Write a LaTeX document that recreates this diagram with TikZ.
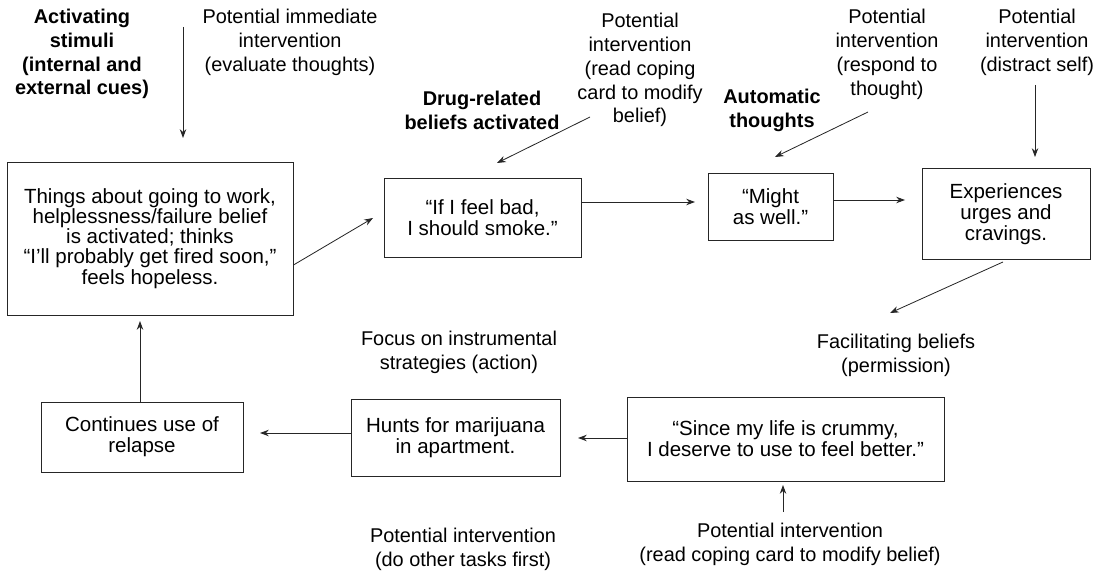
\documentclass[tikz,border=0pt]{standalone}
\usepackage{fontspec}
\setmainfont{Liberation Sans}
\usetikzlibrary{arrows.meta, positioning, calc}

\newcommand{\pxu}{0.03cm}
\newcommand{\boxfont}{\fontsize{17.5pt}{18pt}\selectfont}
\newcommand{\notefont}{\fontsize{17pt}{20.4pt}\selectfont}

\tikzset{
  stepbox/.style={draw=black!85, line width=0.8pt, align=center, inner sep=0pt, font=\boxfont},
  note/.style={align=center, inner sep=0pt, font=\notefont},
  cue/.style={note, font=\notefont\bfseries},
  flow/.style={-{Stealth[length=7.5pt, width=5.5pt]}, line width=0.7pt, draw=black!85}
}

\begin{document}
\begin{tikzpicture}[x=\pxu, y=-\pxu]
\useasboundingbox (0,0) rectangle (1103,573);

% chain of boxes
\node[stepbox, minimum width=286*\pxu, minimum height=153*\pxu,
  font=\fontsize{17.5pt}{17.2pt}\selectfont] (things) at (150,238.5)
  {Things about going to work,\\helplessness/failure belief\\is activated; thinks\\“I'll probably get fired soon,”\\feels hopeless.};
\node[stepbox, minimum width=197*\pxu, minimum height=79*\pxu] (ifbad) at (482.5,217.5)
  {“If I feel bad,\\I should smoke.”};
\node[stepbox, minimum width=125*\pxu, minimum height=67*\pxu] (might) at (770.5,206.5)
  {“Might\\as well.”};
\node[stepbox, minimum width=168*\pxu, minimum height=91*\pxu] (urges) at (1006,214)
  {Experiences\\urges and\\cravings.};
\node[stepbox, minimum width=317*\pxu, minimum height=84*\pxu] (since) at (785.5,439)
  {“Since my life is crummy,\\I deserve to use to feel better.”};
\node[stepbox, minimum width=209*\pxu, minimum height=77*\pxu] (hunts) at (455.5,437.5)
  {Hunts for marijuana\\in apartment.};
\node[stepbox, minimum width=202*\pxu, minimum height=70*\pxu] (relapse) at (142,437)
  {Continues use of\\relapse};

% labels
\node[cue] (stimuli) at (82,54) {Activating\\stimuli\\(internal and\\external cues)};
\node[note] (evaluate) at (290,42) {Potential immediate\\intervention\\(evaluate thoughts)};
\node[cue] (drug) at (482,110) {Drug-related\\beliefs activated};
\node[note] (cardA) at (640,70) {Potential\\intervention\\(read coping\\card to modify\\belief)};
\node[cue] (auto) at (772,110) {Automatic\\thoughts};
\node[note] (respond) at (887,54.5) {Potential\\intervention\\(respond to\\thought)};
\node[note] (distract) at (1037,42.5) {Potential\\intervention\\(distract self)};
\node[note] (permit) at (896,355) {Facilitating beliefs\\(permission)};
\node[note] (focus) at (459,352.5) {Focus on instrumental\\strategies (action)};
\node[note] (tasks) at (463,549.5) {Potential intervention\\(do other tasks first)};
\node[note] (cardB) at (790,544.5) {Potential intervention\\(read coping card to modify belief)};

% free ends of the arrows
\coordinate (evaltail) at (183,27);
\coordinate (evalhead) at (183,138);
\coordinate (thingshead) at (373,218);
\coordinate (cardAtail) at (590,117);
\coordinate (cardAhead) at (497,163);
\coordinate (ifbadhead) at (695,202);
\coordinate (respondtail) at (868,112);
\coordinate (respondhead) at (775,157);
\coordinate (mighthead) at (905,200);
\coordinate (distracttail) at (1035,85);
\coordinate (distracthead) at (1035,157);
\coordinate (urgeshead) at (890,313);
\coordinate (sincehead) at (578,438);
\coordinate (cardBtail) at (783,512);
\coordinate (cardBhead) at (783,485);
\coordinate (huntshead) at (260,433);
\coordinate (relapsehead) at (140,321);

\draw[flow] (evaltail) -- (evalhead);
\draw[flow] ($(things.east)+(0,26.5)$) -- (thingshead);
\draw[flow] (cardAtail) -- (cardAhead);
\draw[flow] ($(ifbad.east)+(0,-15.5)$) -- (ifbadhead);
\draw[flow] (respondtail) -- (respondhead);
\draw[flow] ($(might.east)+(0,-6.5)$) -- (mighthead);
\draw[flow] (distracttail) -- (distracthead);
\draw[flow] ($(urges.south)+(-3,2)$) -- (urgeshead);
\draw[flow] ($(since.west)+(0,-1)$) -- (sincehead);
\draw[flow] (cardBtail) -- (cardBhead);
\draw[flow] ($(hunts.west)+(0,-4.5)$) -- (huntshead);
\draw[flow] ($(relapse.north)+(-2,0)$) -- (relapsehead);
\end{tikzpicture}
\end{document}
